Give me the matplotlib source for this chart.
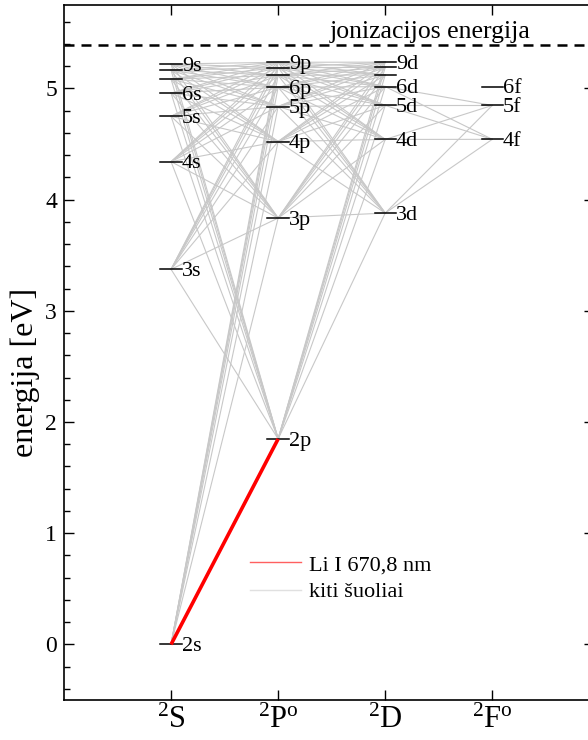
import matplotlib
matplotlib.use('Agg')
import matplotlib.pyplot as plt
from matplotlib.lines import Line2D

plt.rcParams['font.family'] = ['Liberation Serif', 'DejaVu Serif']
plt.rcParams['mathtext.fontset'] = 'custom'
plt.rcParams['mathtext.rm'] = 'Liberation Serif'
plt.rcParams['mathtext.it'] = 'Liberation Serif:italic'

# Li I energy levels [eV]
s_levels = {'2s': 0.000, '3s': 3.373, '4s': 4.341, '5s': 4.749, '6s': 4.958,
            '7s': 5.083, '8s': 5.164, '9s': 5.219}
p_levels = {'2p': 1.848, '3p': 3.834, '4p': 4.522, '5p': 4.837, '6p': 5.010,
            '7p': 5.117, '8p': 5.187, '9p': 5.235}
d_levels = {'3d': 3.879, '4d': 4.541, '5d': 4.847, '6d': 5.016,
            '7d': 5.121, '8d': 5.189, '9d': 5.236}
f_levels = {'4f': 4.542, '5f': 4.847, '6f': 5.016}

series = [s_levels, p_levels, d_levels, f_levels]
column_labels = [r'$^{2}\mathrm{S}$', r'$^{2}\mathrm{P}^{\mathrm{o}}$',
                 r'$^{2}\mathrm{D}$', r'$^{2}\mathrm{F}^{\mathrm{o}}$']
labelled = ['2s', '3s', '4s', '5s', '6s', '9s',
            '2p', '3p', '4p', '5p', '6p', '9p',
            '3d', '4d', '5d', '6d', '9d',
            '4f', '5f', '6f']

ionization = 5.392

# other transitions (lower level -> list of partners)
other_lines = {
    '2s': ['3p', '4p', '5p', '6p', '7p', '8p', '9p'],
    '3s': ['2p', '3p', '4p', '5p', '6p', '7p', '8p', '9p'],
    '4s': ['2p', '3p', '4p', '5p', '6p', '7p', '8p', '9p'],
    '5s': ['2p', '3p', '4p', '5p', '6p', '7p', '8p', '9p'],
    '6s': ['2p', '3p', '4p', '5p', '6p', '7p', '8p', '9p'],
    '7s': ['2p', '3p', '4p', '5p', '6p', '7p', '8p', '9p'],
    '8s': ['2p', '3p', '4p', '5p', '6p', '7p', '8p', '9p'],
    '9s': ['2p', '3p', '4p', '5p', '6p', '7p', '8p', '9p'],
    '2p': ['3d', '4d', '5d', '6d', '7d', '8d', '9d'],
    '3p': ['3d', '4d', '5d', '6d', '7d', '8d', '9d'],
    '4p': ['3d', '4d', '5d', '6d', '7d', '8d', '9d'],
    '5p': ['3d', '4d', '5d', '6d', '7d', '8d', '9d'],
    '6p': ['3d', '4d', '5d', '6d', '7d', '8d', '9d'],
    '7p': ['3d', '4d', '5d', '6d', '7d', '8d', '9d'],
    '8p': ['3d', '4d', '5d', '6d', '7d', '8d', '9d'],
    '9p': ['3d', '4d', '5d', '6d', '7d', '8d', '9d'],
    '3d': ['4f', '5f'],
    '4d': ['4f', '5f'],
    '5d': ['4f', '5f'],
    '6d': ['4f', '5f'],
}
main_line = ('2s', '2p')

# position of every level: (column, energy)
pos = {}
for col, lev in enumerate(series, start=1):
    for name, e in lev.items():
        pos[name] = (col, e)

fig = plt.figure(figsize=(5.88, 7.40), dpi=100)
ax = fig.add_axes([64 / 588, 40 / 740, 530 / 588, 695 / 740])

for lower, uppers in other_lines.items():
    for upper in uppers:
        x0, y0 = pos[lower]
        x1, y1 = pos[upper]
        ax.plot([x0, x1], [y0, y1], color='#c8c8c8', lw=0.8, zorder=1)

x0, y0 = pos[main_line[0]]
x1, y1 = pos[main_line[1]]
ax.plot([x0, x1], [y0, y1], color='#ff0000', lw=2.6, zorder=3,
        solid_capstyle='butt')

# level marks and labels
for name, (col, e) in pos.items():
    ax.plot([col - 0.1, col + 0.1], [e, e], color='black', lw=1.1, zorder=2)
    if name in labelled:
        ax.text(col + 0.1, e - 0.02, name, fontsize=16, ha='left',
                va='center', zorder=4)

ax.axhline(ionization, color='black', lw=1.8, linestyle=(0, (4, 2.8)),
           zorder=2)
ax.text(3.42, ionization + 0.02, 'jonizacijos energija', fontsize=18.5,
        ha='center', va='bottom')

handles = [Line2D([], [], color='#ff6060', lw=1.0),
           Line2D([], [], color='#e0e0e0', lw=1.0)]
ax.legend(handles, ['Li I 670,8 nm', 'kiti šuoliai'], loc='upper left',
          bbox_to_anchor=(1.655 / 4.95, 0.222), frameon=False, fontsize=16,
          handlelength=2.3, handletextpad=0.35, labelspacing=0.3,
          borderaxespad=0)

ax.set_xlim(0, 4.95)
ax.set_ylim(-0.5, 5.75)
ax.set_xticks([1, 2, 3, 4])
ax.set_xticklabels(column_labels, fontsize=22)
ax.set_yticks([0, 1, 2, 3, 4, 5])
ax.set_yticks([y / 5 for y in range(-2, 29)], minor=True)
ax.tick_params(axis='y', which='major', labelsize=17)
ax.tick_params(which='both', direction='in', top=True, right=True,
               width=1.0)
ax.tick_params(which='major', length=7.5, pad=5)
ax.tick_params(axis='x', which='major', pad=4)
ax.tick_params(which='minor', length=4)
ax.tick_params(axis='x', which='minor', top=False, bottom=False)
ax.tick_params(axis='y', which='minor', right=False)
for sp in ax.spines.values():
    sp.set_linewidth(1.2)

ax.set_ylabel('energija [eV]', fontsize=23)
ax.yaxis.set_label_coords(-0.045, 0.472)

fig.savefig('out.png', dpi=100)
